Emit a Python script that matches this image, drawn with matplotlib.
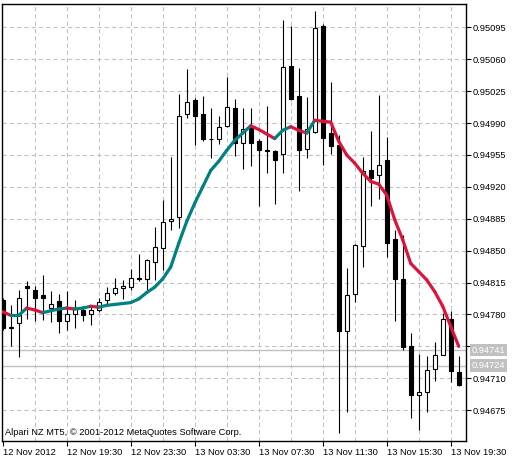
import matplotlib
matplotlib.use("Agg")
import matplotlib.pyplot as plt
from matplotlib.collections import LineCollection
import numpy as np

# EURCHF-like M30 bars, 12 Nov 15:30 .. 13 Nov 20:00
opens = [0.94796, 0.94766, 0.94771, 0.94811, 0.94807, 0.94801, 0.94787, 0.94795, 0.94773, 0.94781,
         0.94785, 0.94780, 0.94785, 0.94796, 0.94804, 0.94809, 0.94810, 0.94820, 0.94819, 0.94838,
         0.94853, 0.94882, 0.94887, 0.95000, 0.95015, 0.95000, 0.94973, 0.94972, 0.94987, 0.95006,
         0.94968, 0.94985, 0.94970, 0.94960, 0.94959, 0.94956, 0.95053, 0.95020, 0.94961, 0.94980,
         0.95096, 0.94979, 0.94966, 0.94762, 0.94802, 0.94855, 0.94938, 0.94933, 0.94949, 0.94863,
         0.94819, 0.94745, 0.94692, 0.94695, 0.94720, 0.94736, 0.94775, 0.94717]
highs = [0.94798, 0.94790, 0.94807, 0.94817, 0.94811, 0.94823, 0.94806, 0.94802, 0.94806, 0.94796,
         0.94789, 0.94790, 0.94798, 0.94810, 0.94820, 0.94818, 0.94830, 0.94846, 0.94841, 0.94876,
         0.94906, 0.94953, 0.95022, 0.95049, 0.95018, 0.95020, 0.95006, 0.94998, 0.95041, 0.95016,
         0.95006, 0.95006, 0.94973, 0.95009, 0.94960, 0.95103, 0.95096, 0.95050, 0.95019, 0.95113,
         0.95099, 0.95035, 0.94977, 0.94831, 0.94857, 0.94953, 0.94981, 0.95021, 0.94975, 0.94873,
         0.94867, 0.94760, 0.94737, 0.94734, 0.94750, 0.94782, 0.94784, 0.94734]
lows = [0.94763, 0.94745, 0.94733, 0.94775, 0.94773, 0.94774, 0.94772, 0.94760, 0.94763, 0.94765,
        0.94773, 0.94768, 0.94783, 0.94790, 0.94801, 0.94797, 0.94807, 0.94817, 0.94806, 0.94818,
        0.94829, 0.94873, 0.94875, 0.94996, 0.94966, 0.94970, 0.94952, 0.94967, 0.94986, 0.94954,
        0.94940, 0.94943, 0.94899, 0.94935, 0.94901, 0.94935, 0.95015, 0.94916, 0.94952, 0.94979,
        0.94944, 0.94956, 0.94650, 0.94673, 0.94794, 0.94832, 0.94899, 0.94907, 0.94843, 0.94773,
        0.94741, 0.94666, 0.94653, 0.94673, 0.94707, 0.94735, 0.94706, 0.94702]
closes = [0.94765, 0.94765, 0.94798, 0.94809, 0.94798, 0.94798, 0.94791, 0.94773, 0.94781, 0.94786,
          0.94779, 0.94785, 0.94794, 0.94804, 0.94809, 0.94811, 0.94820, 0.94819, 0.94840, 0.94854,
          0.94881, 0.94885, 0.94998, 0.95013, 0.94998, 0.94973, 0.94972, 0.94986, 0.95008, 0.94968,
          0.94983, 0.94968, 0.94960, 0.94959, 0.94949, 0.95051, 0.95016, 0.94960, 0.94984, 0.95094,
          0.94974, 0.94965, 0.94762, 0.94801, 0.94856, 0.94937, 0.94930, 0.94944, 0.94858, 0.94819,
          0.94744, 0.94692, 0.94695, 0.94719, 0.94736, 0.94775, 0.94718, 0.94703]
ma = [0.94783, 0.94779, 0.94779, 0.94787, 0.94785, 0.94782, 0.94784, 0.94786, 0.94787, 0.94786,
      0.94787, 0.94789, 0.94788, 0.94790, 0.94791, 0.94792, 0.94793, 0.94797, 0.94804, 0.94810,
      0.94819, 0.94832, 0.94858, 0.94882, 0.94902, 0.94920, 0.94938, 0.94948, 0.94960, 0.94971,
      0.94979, 0.94987, 0.94983, 0.94978, 0.94973, 0.94982, 0.94986, 0.94982, 0.94979, 0.94993,
      0.94992, 0.94991, 0.94970, 0.94955, 0.94946, 0.94935, 0.94926, 0.94923, 0.94911, 0.94884,
      0.94862, 0.94836, 0.94827, 0.94818, 0.94805, 0.94789, 0.94767, 0.94745]

time_ticks = [0, 8, 16, 24, 32, 40, 48, 56]
time_labels = ["12 Nov 2012", "12 Nov 19:30", "12 Nov 23:30", "13 Nov 03:30",
               "13 Nov 07:30", "13 Nov 11:30", "13 Nov 15:30", "13 Nov 19:30"]
price_ticks = [0.95095, 0.95060, 0.95025, 0.94990, 0.94955, 0.94920, 0.94885,
               0.94850, 0.94815, 0.94780, 0.94745, 0.94710, 0.94675]
bid_ask = [0.94741, 0.94724]

FONT = "Liberation Sans"
FS = 6.7

fig = plt.figure(figsize=(5.19, 4.62), dpi=100)
ax = fig.add_axes([2.3 / 519, 21.3 / 462, 463.7 / 519, 436.4 / 462])

o = np.array(opens); h = np.array(highs); l = np.array(lows); c = np.array(closes)
x = np.arange(len(o))

# grid
for p in price_ticks:
    ax.axhline(p, color="#c0c0c0", lw=0.75, ls=(0, (4, 3)), zorder=0)
for t in range(4, len(x), 4):
    ax.axvline(t, color="#c0c0c0", lw=0.75, ls=(0, (4, 3)), zorder=0)

# bid / ask lines
for p in bid_ask:
    ax.axhline(p, color="#c0c0c0", lw=1.0, zorder=1)

# candles
ax.vlines(x, l, h, color="black", lw=0.8, zorder=2)
up = c >= o
bottoms = np.minimum(o, c)
heights = np.maximum(np.abs(c - o), 0.000005)
ax.bar(x[up], heights[up], bottom=bottoms[up], width=0.55,
       facecolor="white", edgecolor="black", lw=0.8, zorder=3)
ax.bar(x[~up], heights[~up], bottom=bottoms[~up], width=0.55,
       facecolor="black", edgecolor="black", lw=0.8, zorder=3)

# colour moving average
m = np.array(ma)
segs = [[(i - 1, m[i - 1]), (i, m[i])] for i in range(1, len(m))]
cols = ["#dc143c" if m[i] < m[i - 1] else "#008080" for i in range(1, len(m))]
ax.add_collection(LineCollection(segs, colors=cols, linewidths=2.3, zorder=4,
                                 capstyle="round"))

ax.set_xlim(-0.05, 57.91)
ax.set_ylim(0.946415, 0.951203)

for s in ax.spines.values():
    s.set_color("black")
    s.set_linewidth(1.0)

ax.yaxis.tick_right()
ax.set_yticks(price_ticks)
ax.set_yticklabels(["%.5f" % p for p in price_ticks], fontsize=FS, family=FONT)
ax.set_xticks(time_ticks)
ax.set_xticklabels(time_labels, fontsize=FS, family=FONT, ha="left")
ax.tick_params(axis="y", direction="out", length=3.5, width=0.8, pad=1.5, colors="black")
ax.tick_params(axis="x", direction="out", length=3.5, width=0.8, pad=2, colors="black")

for p in bid_ask:
    ax.annotate("%.5f" % p, xy=(1.0125, p), xycoords=("axes fraction", "data"),
                ha="left", va="center", fontsize=FS, family=FONT, color="white",
                bbox=dict(boxstyle="square,pad=0.2", fc="#c0c0c0", ec="none"),
                annotation_clip=False, zorder=10)

ax.text(0.006, 0.018, "Alpari NZ MT5, \u00a9 2001-2012 MetaQuotes Software Corp.",
        transform=ax.transAxes, fontsize=FS, family=FONT, va="center", ha="left")

fig.savefig("out.png", dpi=100, facecolor="white")
